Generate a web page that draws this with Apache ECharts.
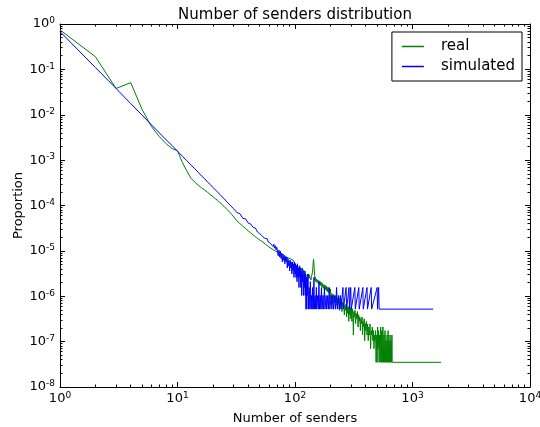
<!DOCTYPE html>
<html><head><meta charset="utf-8">
<script src="https://cdn.jsdelivr.net/npm/echarts@6/dist/echarts.min.js"></script>
<style>html,body{margin:0;padding:0;background:#fff}#c{width:540px;height:427px}</style>
</head><body><div id="c"></div>
<script>
const chartTitle = 'Number of senders distribution';
const xAxisName = 'Number of senders';
const yAxisName = 'Proportion';
const seriesNames = ['real', 'simulated'];
const xExponents = [0, 1, 2, 3, 4];
const yExponents = [0, -1, -2, -3, -4, -5, -6, -7, -8];

// [number of senders, proportion]
const realPoints = [
[1,0.74],[2,0.19],[3,0.038],[4,0.051],[5,0.013],[6,0.0055],[7,0.0033],[8,0.0023],[9,0.0018],[10,0.0016],
[11,0.00089],[12,0.00058],[13,0.0004],[14,0.00033],[15,0.00028],[16,0.000245],[17,0.00022],[18,0.000195],[19,0.000174],[20,0.000158],
[21,0.000141],[22,0.000129],[23,0.000115],[24,0.000105],[25,0.000095],[26,0.000085],[27,0.000077],[28,0.00007],[29,0.000063],[30,0.000057],
[32,4.6e-5],[34,4.0e-5],[36,3.5e-5],[38,3.1e-5],[40,2.75e-5],[42,2.5e-5],[44,2.25e-5],[46,2.05e-5],[48,1.88e-5],[50,1.75e-5],
[52,1.63e-5],[54,1.52e-5],[56,1.41e-5],[58,1.3e-5],[60,1.22e-5],[62,1.15e-5],[64,1.1e-5],[66,1.04e-5],[68,9.9e-6],[70,9.6e-6],
[72,9.3e-6],[74,9.0e-6],[76,8.7e-6],[78,8.5e-6],[80,8.2e-6],[82,7.9e-6],[84,7.4e-6],[86,7.5e-6],[88,7.0e-6],[90,7.0e-6],
[92,6.6e-6],[94,6.2e-6],[96,6.3e-6],[98,5.6e-6],[100,5.3e-6],
[101,5.0e-6],[102,5.4e-6],[103,4.7e-6],[104,5.1e-6],[105,4.5e-6],[106,4.9e-6],[107,4.3e-6],[108,4.6e-6],[109,4.0e-6],[110,4.5e-6],
[111,4.1e-6],[112,3.8e-6],[113,4.2e-6],[114,3.6e-6],[115,4.0e-6],[116,3.5e-6],[117,3.9e-6],[118,3.3e-6],[119,3.7e-6],[120,3.4e-6],
[121,3.1e-6],[122,3.6e-6],[123,3.0e-6],[124,3.3e-6],[125,2.8e-6],[126,3.2e-6],[127,2.9e-6],[128,2.6e-6],[129,3.1e-6],[130,2.7e-6],
[131,3.0e-6],[132,2.5e-6],[133,2.9e-6],[134,2.6e-6],[135,2.4e-6],[136,2.8e-6],[137,2.3e-6],[138,2.7e-6],[139,2.5e-6],[140,2.9e-6],
[141,3.4e-6],[142,4.4e-6],[143,5.8e-6],[144,6.5e-6],[145,5.2e-6],[146,3.8e-6],[147,2.9e-6],[148,2.3e-6],[149,2.6e-6],[150,2.1e-6],
[152,2.4e-6],[154,2.0e-6],[156,2.3e-6],[158,1.9e-6],[160,2.2e-6],[162,1.8e-6],[164,2.1e-6],[166,1.7e-6],[168,2.0e-6],[170,1.6e-6],
[172,1.9e-6],[174,1.5e-6],[176,1.8e-6],[178,1.45e-6],[180,1.75e-6],[182,1.4e-6],[184,1.7e-6],[186,1.3e-6],[188,1.6e-6],[190,1.25e-6],
[192,1.55e-6],[194,1.2e-6],[196,1.5e-6],[198,1.15e-6],[200,1.45e-6],
[203,8.4e-7],[206,1.15e-6],[209,8.8e-7],[212,1.1e-6],[215,7.0e-7],[218,1.0e-6],[221,7.7e-7],[224,1.05e-6],[227,6.3e-7],[230,9.1e-7],
[233,7.0e-7],[236,9.5e-7],[239,4.9e-7],[242,8.4e-7],[245,5.9e-7],[248,8.8e-7],[251,4.6e-7],[254,7.4e-7],[257,5.6e-7],[260,7.0e-7],
[263,3.9e-7],[266,6.3e-7],[269,4.9e-7],[272,6.7e-7],[275,3.5e-7],[278,5.6e-7],[281,4.2e-7],[284,6.0e-7],[287,2.8e-7],[290,5.3e-7],
[293,3.9e-7],[296,5.6e-7],[299,3.2e-7],[302,5.6e-7],[305,2.8e-7],[308,5.3e-7],[311,4.2e-7],[314,1.4e-7],[317,4.6e-7],[320,3.5e-7],
[324,4.9e-7],[328,2.5e-7],[332,4.2e-7],[336,3.2e-7],[340,4.6e-7],[344,2.1e-7],[348,3.9e-7],[352,2.8e-7],[356,3.5e-7],[360,1.75e-7],
[364,3.2e-7],[368,2.5e-7],[372,3.5e-7],[376,1.4e-7],[380,2.8e-7],[384,2.1e-7],[388,3.2e-7],[392,1.05e-7],[396,2.5e-7],[400,1.75e-7],
[405,2.8e-7],[410,1.4e-7],[415,2.45e-7],[420,1.05e-7],[425,2.1e-7],[430,1.4e-7],[435,2.45e-7],[440,7e-8],[445,1.75e-7],[450,1.4e-7],
[455,2.1e-7],[460,1.05e-7],[465,1.75e-7],[470,7e-8],[475,1.4e-7],[480,1.05e-7],[485,1.75e-7],[490,3.5e-8],[495,1.4e-7],[500,3.5e-8],
[505,2.1e-7],[510,7e-8],[515,1.75e-7],[520,3.5e-8],[525,1.4e-7],[530,3.5e-8],[536,2.1e-7],[542,3.5e-8],[548,1.75e-7],[554,3.5e-8],
[560,2.1e-7],[566,3.5e-8],[572,1.4e-7],[578,3.5e-8],[584,1.75e-7],[590,3.5e-8],[596,1.05e-7],[602,3.5e-8],[608,1.4e-7],[614,3.5e-8],
[620,1.75e-7],[626,3.5e-8],[632,1.05e-7],[638,3.5e-8],[644,1.4e-7],[650,3.5e-8],[656,1.05e-7],[662,3.5e-8],[668,1.4e-7],[672,3.5e-8],
[1750,3.5e-8]
];

const simPoints = [
[1,0.68],[2,0.11],[3,0.038],[4,0.0176],[5,0.0098],[6,0.006],[7,0.004],[8,0.0028],[9,0.0021],[10,0.00157],
[11,0.00122],[12,0.00097],[13,0.00078],[14,0.00065],[15,0.00054],[16,0.00045],[17,0.00039],[18,0.00033],[19,0.00029],[20,0.00025],
[21,0.00022],[22,0.000196],[23,0.000175],[24,0.000154],[25,0.000141],[26,0.000124],[27,0.000116],[28,0.000102],[29,0.000096],[30,0.000085],
[31,8.1e-5],[32,7.0e-5],[33,6.9e-5],[34,6.6e-5],[35,6.0e-5],[36,5.2e-5],[37,5.0e-5],[38,5.1e-5],[39,4.7e-5],[40,4.1e-5],
[41,3.8e-5],[42,3.9e-5],[43,3.8e-5],[44,3.3e-5],[45,3.0e-5],[46,3.2e-5],[47,3.1e-5],[48,2.6e-5],[49,2.7e-5],[50,2.4e-5],
[51,2.5e-5],[52,2.2e-5],[53,2.3e-5],[54,2.0e-5],[55,1.9e-5],[56,2.05e-5],[57,1.75e-5],[58,1.85e-5],[59,1.6e-5],[60,1.5e-5],
[61,1.7e-5],[62,1.45e-5],[63,1.35e-5],[64,1.5e-5],[65,1.25e-5],[66,1.4e-5],[67,1.15e-5],[68,1.3e-5],[69,1.05e-5],[70,1.2e-5],
[71,1.09e-5],[72,7.8e-6],[73,1.04e-5],[74,7.3e-6],[75,9.9e-6],[76,6.8e-6],[77,8.8e-6],[78,5.7e-6],[79,8.3e-6],[80,6.2e-6],
[81,7.8e-6],[82,5.2e-6],[83,7.3e-6],[84,5.7e-6],[85,7.3e-6],[86,4.2e-6],[87,6.8e-6],[88,4.7e-6],[89,6.2e-6],[90,3.6e-6],
[91,6.2e-6],[92,4.2e-6],[93,5.7e-6],[94,3.1e-6],[95,5.7e-6],[96,3.6e-6],[97,5.2e-6],[98,2.6e-6],[99,5.7e-6],[100,3.1e-6],
[101,5.2e-6],[102,2.6e-6],[103,4.7e-6],[104,2.1e-6],[105,5.2e-6],[106,2.6e-6],[107,4.2e-6],[108,1.56e-6],[109,4.7e-6],[110,2.6e-6],
[111,4.2e-6],[112,1.56e-6],[113,3.6e-6],[114,1.04e-6],[115,4.2e-6],[116,2.1e-6],[117,3.1e-6],[118,1.04e-6],[119,3.6e-6],[120,1.56e-6],
[121,3.1e-6],[122,1.04e-6],[123,3.1e-6],[124,5.2e-7],[125,2.6e-6],[126,5.2e-7],[127,2.6e-6],[128,1.04e-6],[129,3.1e-6],[130,5.2e-7],
[132,1.56e-6],[134,5.2e-7],[135,2.1e-6],[137,5.2e-7],[138,1.04e-6],[140,5.2e-7],[141,1.56e-6],[143,5.2e-7],[145,2.6e-6],[146,5.2e-7],
[148,1.04e-6],[150,5.2e-7],[152,1.56e-6],[153,5.2e-7],[156,1.04e-6],[158,5.2e-7],[160,2.1e-6],[161,5.2e-7],[164,1.04e-6],[166,5.2e-7],
[168,1.56e-6],[170,5.2e-7],[173,1.04e-6],[175,5.2e-7],[178,1.56e-6],[180,5.2e-7],[184,1.04e-6],[186,5.2e-7],[190,1.04e-6],[192,5.2e-7],
[196,1.56e-6],[198,5.2e-7],[203,1.04e-6],[206,5.2e-7],[210,1.04e-6],[213,5.2e-7],[218,1.04e-6],[221,5.2e-7],[226,1.56e-6],[229,5.2e-7],
[234,1.04e-6],[238,5.2e-7],[243,1.04e-6],[246,5.2e-7],[256,1.56e-6],[258,5.2e-7],[272,1.56e-6],[275,5.2e-7],[288,1.56e-6],[291,5.2e-7],
[298,1.56e-6],[301,5.2e-7],[323,1.56e-6],[326,5.2e-7],[349,1.56e-6],[352,5.2e-7],[378,1.56e-6],[381,5.2e-7],[410,1.56e-6],[414,5.2e-7],
[445,1.56e-6],[449,5.2e-7],[500,1.56e-6],[504,5.2e-7],[515,1.56e-6],[520,5.2e-7],[1500,5.2e-7]
];

const FONT = 'DejaVu Sans';
function majorVals(exps) { return exps.map(e => Math.pow(10, e)); }
function minorVals(exps) {
  const lo = Math.min(...exps), hi = Math.max(...exps), out = [];
  for (let d = lo; d < hi; d++) for (let k = 2; k <= 9; k++) out.push(k * Math.pow(10, d));
  return out;
}
const xMajor = majorVals(xExponents), xMinor = minorVals(xExponents);
const yMajor = majorVals(yExponents), yMinor = minorVals(yExponents);
const xMin = Math.min(...xMajor), xMax = Math.max(...xMajor);
const yMin = Math.min(...yMajor), yMax = Math.max(...yMajor);

function powLabel(v) {
  const e = Math.round(Math.log10(v));
  return '{b|10}{e|' + e + '}';
}
const rich = {
  b: { fontSize: 13, fontFamily: FONT, color: '#000' },
  e: { fontSize: 9, fontFamily: FONT, color: '#000', verticalAlign: 'top', padding: [0, 0, 6, 0] }
};
const lineSt = { color: '#000', width: 1 };

function xAx(pos, vals, len, labels) {
  return {
    type: 'log', logBase: 10, min: xMin, max: xMax, position: pos,
    splitLine: { show: false },
    axisLine: { show: len > 3, lineStyle: lineSt },
    axisTick: { show: true, inside: true, length: len, customValues: vals, lineStyle: lineSt },
    axisLabel: labels ? { show: true, customValues: vals, formatter: powLabel, rich: rich, margin: 4 } : { show: false },
    name: labels ? xAxisName : '', nameLocation: 'middle', nameGap: 25, nameMoveOverlap: false,
    nameTextStyle: { fontSize: 13, fontFamily: FONT, color: '#000' }
  };
}
function yAx(pos, vals, len, labels) {
  return {
    type: 'log', logBase: 10, min: yMin, max: yMax, position: pos,
    splitLine: { show: false },
    axisLine: { show: len > 3, lineStyle: lineSt },
    axisTick: { show: true, inside: true, length: len, customValues: vals, lineStyle: lineSt },
    axisLabel: labels ? { show: true, customValues: vals, formatter: powLabel, rich: rich, margin: 5 } : { show: false },
    name: labels ? yAxisName : '', nameLocation: 'middle', nameGap: 35, nameMoveOverlap: false,
    nameTextStyle: { fontSize: 13, fontFamily: FONT, color: '#000' }
  };
}

const chart = echarts.init(document.getElementById('c'), null, { renderer: 'canvas' });
chart.setOption({
  animation: false,
  backgroundColor: '#fff',
  textStyle: { fontFamily: FONT },
  title: {
    text: chartTitle, left: 295, top: 8, textAlign: 'center', padding: 0,
    textStyle: { fontSize: 15, fontWeight: 'normal', fontFamily: FONT, color: '#000' }
  },
  grid: { left: 60, top: 24, width: 470, height: 363, outerBoundsMode: 'none', containLabel: false },
  legend: {
    data: seriesNames, orient: 'vertical', right: 18, top: 32,
    backgroundColor: '#fff', borderColor: '#000', borderWidth: 1, borderRadius: 0,
    padding: [7, 7, 7, 10], itemGap: 5, itemWidth: 22, itemHeight: 1.5, icon: 'rect',
    textStyle: { fontSize: 15, fontFamily: FONT, color: '#000', padding: [0, 0, 0, 12] }
  },
  xAxis: [ xAx('bottom', xMajor, 5, true), xAx('top', xMajor, 5, false), xAx('top', xMinor, 2.5, false), xAx('bottom', xMinor, 2.5, false) ],
  yAxis: [ yAx('left', yMajor, 5, true), yAx('right', yMajor, 5, false), yAx('right', yMinor, 2.5, false), yAx('left', yMinor, 2.5, false) ],
  series: [
    { name: seriesNames[0], type: 'line', xAxisIndex: 0, yAxisIndex: 0, data: realPoints, showSymbol: false, symbol: 'none',
      lineStyle: { color: '#008000', width: 1 }, itemStyle: { color: '#008000' }, z: 2 },
    { name: seriesNames[1], type: 'line', xAxisIndex: 0, yAxisIndex: 0, data: simPoints, showSymbol: false, symbol: 'none',
      lineStyle: { color: '#0000ff', width: 1 }, itemStyle: { color: '#0000ff' }, z: 3 }
  ]
});
</script>
</body></html>
